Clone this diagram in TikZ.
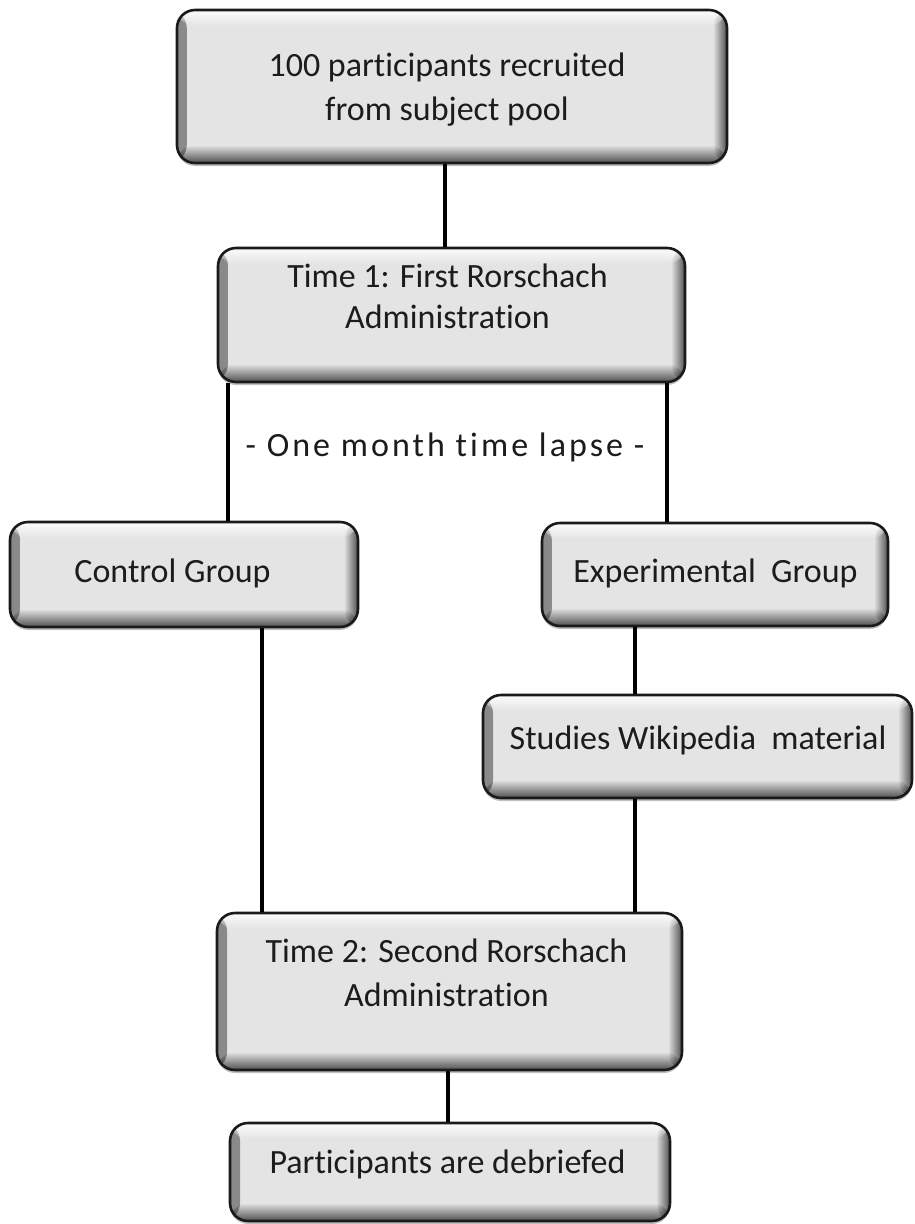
\documentclass[tikz,border=0pt]{standalone}
\usepackage{fontspec}
\setmainfont{Carlito}[Ligatures={NoCommon}]
\usetikzlibrary{shadows,fadings}
\definecolor{boxg}{HTML}{E4E4E4}
\definecolor{edgeg}{HTML}{1A1A1A}
\definecolor{txtc}{HTML}{1C1C1C}
\tikzfading[name=fadebot, top color=transparent!100, bottom color=transparent!0]
\tikzfading[name=fadetop, top color=transparent!0, bottom color=transparent!100]
\tikzfading[name=faderight, left color=transparent!100, right color=transparent!0]
\tikzfading[name=fadeleft, left color=transparent!0, right color=transparent!100]
\tikzset{
  flowbox/.style={draw=edgeg, line width=2.6pt, rounded corners=18pt, fill=boxg, inner sep=0pt,
    drop shadow={shadow xshift=0pt, shadow yshift=-3pt, opacity=0.25, fill=black},
    path picture={
      \fill[black, opacity=0.4, path fading=fadeleft] (path picture bounding box.south west) rectangle ([xshift=10pt]path picture bounding box.north west);
      \fill[black, opacity=0.65, path fading=faderight] ([xshift=-14pt]path picture bounding box.south east) rectangle (path picture bounding box.north east);
      \fill[white, opacity=0.9, path fading=fadetop] ([yshift=-16pt]path picture bounding box.north west) rectangle (path picture bounding box.north east);
      \fill[black, opacity=0.65, path fading=fadebot] (path picture bounding box.south west) rectangle ([yshift=18pt]path picture bounding box.south east);
    }},
  boxtext/.style={anchor=base, inner sep=0pt, text=txtc, font=\fontsize{34}{43}\selectfont},
  conn/.style={draw=black, line width=3.2pt}
}
\begin{document}
\begin{tikzpicture}[x=1pt,y=-1pt]
\useasboundingbox[fill=white] (0,0) rectangle (914,1224);

% connector x positions
\coordinate (xa) at (445,0);
\coordinate (xl) at (228,0);
\coordinate (xr) at (667,0);
\coordinate (xc) at (262,0);
\coordinate (xe) at (635,0);
\coordinate (xt) at (448,0);

% boxes
\node[flowbox, minimum width=550pt, minimum height=153pt] (b1) at (452,86.5) {};
\node[flowbox, minimum width=467pt, minimum height=134pt] (b2) at (451.5,315) {};
\node[flowbox, minimum width=348pt, minimum height=105pt] (ctrl) at (184,574.5) {};
\node[flowbox, minimum width=346pt, minimum height=103pt] (exp) at (715,574.5) {};
\node[flowbox, minimum width=429pt, minimum height=103pt] (stud) at (697.5,746.5) {};
\node[flowbox, minimum width=465pt, minimum height=157pt] (t2) at (449.5,991.5) {};
\node[flowbox, minimum width=440pt, minimum height=98pt] (part) at (450,1172) {};

% texts
\node[boxtext] (b1a) at (447,76) {100 participants recruited};
\node[boxtext] (b1b) at (447,120) {from subject pool};
\node[boxtext] (b2a) at (447.5,287) {Time 1: First Rorschach};
\node[boxtext] (b2b) at (447.5,328) {Administration};
\node[boxtext] (ctrlt) at (172.5,582) {Control Group};
\node[boxtext] (expt) at (715.5,582) {Experimental\ \ Group};
\node[boxtext] (studt) at (698,749) {Studies Wikipedia\ \ material};
\node[boxtext] (t2a) at (446.5,962) {Time 2: Second Rorschach};
\node[boxtext] (t2b) at (446.5,1006) {Administration};
\node[boxtext] (partt) at (447.5,1173) {Participants are debriefed};
\node[boxtext] (lapse) at (445,456) {\addfontfeature{LetterSpace=9}- One month time lapse -};

% connectors
\draw[conn] (b1.south -| xa) -- (b2.north -| xa);
\draw[conn] (b2.south -| xl) -- (ctrl.north -| xl);
\draw[conn] (b2.south -| xr) -- (exp.north -| xr);
\draw[conn] (ctrl.south -| xc) -- (t2.north -| xc);
\draw[conn] (exp.south -| xe) -- (stud.north -| xe);
\draw[conn] (stud.south -| xe) -- (t2.north -| xe);
\draw[conn] (t2.south -| xt) -- (part.north -| xt);
\end{tikzpicture}
\end{document}
